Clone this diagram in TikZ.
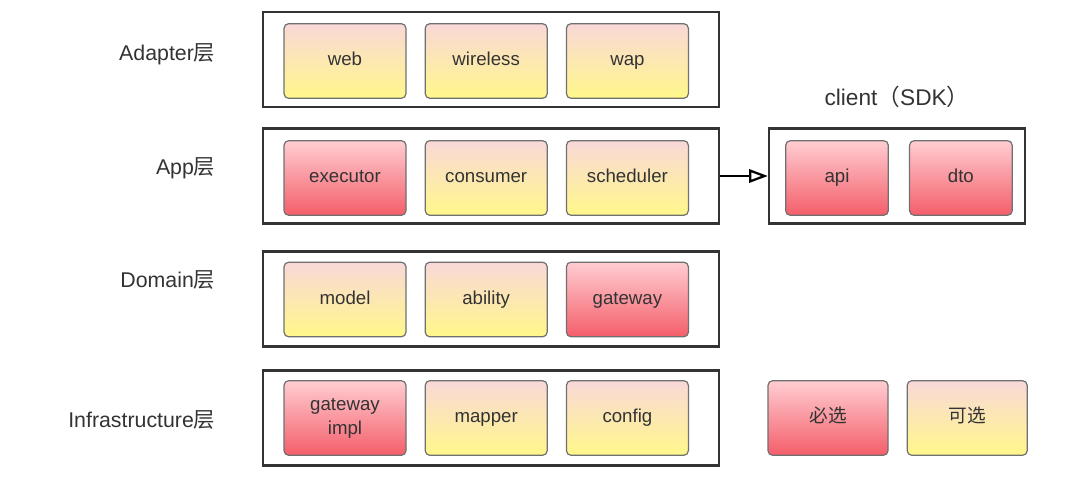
\documentclass[tikz,border=0pt]{standalone}
\usepackage{fontspec}
\setmainfont{Liberation Sans}
\newfontfamily\cjk{Noto Sans CJK SC}
\usetikzlibrary{arrows.meta,positioning}
\definecolor{redtop}{HTML}{FFCDD2}
\definecolor{redbot}{HTML}{F45E6A}
\definecolor{yeltop}{HTML}{F9D8D8}
\definecolor{yelbot}{HTML}{FFF88A}
\definecolor{edge}{HTML}{707070}
\definecolor{txt}{HTML}{333333}
\tikzset{
  mod/.style={rectangle, rounded corners=3.5pt, draw=edge, line width=0.9pt,
              minimum width=91.5pt, minimum height=56pt, align=center,
              text height=10pt, text depth=3pt,
              font=\fontsize{14}{18}\selectfont, text=txt},
  must/.style={mod, top color=redtop, bottom color=redbot},
  optional/.style={mod, top color=yeltop, bottom color=yelbot},
  tier/.style={rectangle, draw=black!80, line width=1.8pt, minimum width=342pt, minimum height=71pt},
  lbl/.style={font=\fontsize{16}{18}\selectfont, text=txt, anchor=east},
  ar/.style={-{Triangle[open, length=14pt, width=10pt]}, line width=1.7pt},
}
\begin{document}
\begin{tikzpicture}[x=0.75pt, y=-0.75pt, node distance=13.5pt]
\useasboundingbox (0,0) rectangle (1091,502);
% layer frames
\node[tier] (adapter) at (491,59.5) {};
\node[tier] (app) at (491,176) {};
\node[tier] (domain) at (491,299) {};
\node[tier] (infra) at (491,418) {};
\node[tier, minimum width=192pt] (client) at (897,176) {};
% layer labels
\node[lbl] (ladapter) at (220,54) {Adapter{\cjk 层}};
\node[lbl] (lapp) at (220,168) {App{\cjk 层}};
\node[lbl] (ldomain) at (220,280) {Domain{\cjk 层}};
\node[lbl] (linfra) at (220,420) {Infrastructure{\cjk 层}};
\node[font=\fontsize{17}{19}\selectfont, text=txt] (lclient) at (897,97) {client{\cjk （}SDK{\cjk ）}};
% adapter
\node[optional] (web) at (345,61) {web};
\node[optional, right=of web] (wireless) {wireless};
\node[optional, right=of wireless] (wap) {wap};
% app
\node[must] (executor) at (345,178) {executor};
\node[optional, right=of executor] (consumer) {consumer};
\node[optional, right=of consumer] (scheduler) {scheduler};
% domain
\node[optional] (model) at (345,299.5) {model};
\node[optional, right=of model] (ability) {ability};
\node[must, right=of ability] (gateway) {gateway};
% infrastructure
\node[must, text height=, text depth=] (gwimpl) at (345,418) {gateway\\impl};
\node[optional, right=of gwimpl] (mapper) {mapper};
\node[optional, right=of mapper] (config) {config};
% client
\node[must, minimum width=77pt] (api) at (837,178) {api};
\node[must, minimum width=77pt, right=15pt of api] (dto) {dto};
% legend
\node[must, minimum width=90pt] (required) at (828,418) {\cjk 必选};
\node[optional, minimum width=90pt, right=of required] (choice) {\cjk 可选};
\draw[ar] (app.east) -- (client.west);
\end{tikzpicture}
\end{document}
